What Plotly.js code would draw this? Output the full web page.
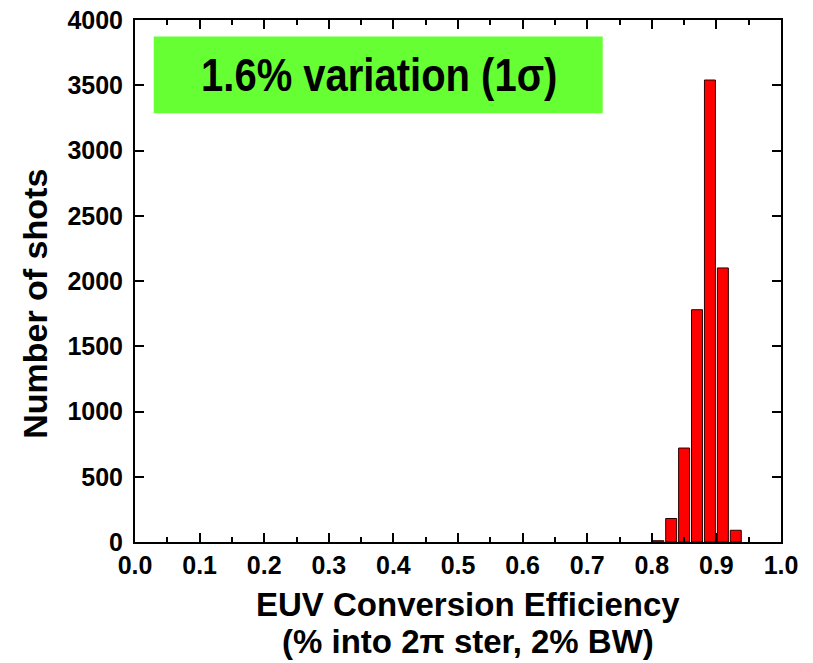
<!DOCTYPE html>
<html>
<head>
<meta charset="utf-8">
<script src="https://cdn.plot.ly/plotly-3.0.1.min.js"></script>
<style>
  html, body { margin: 0; padding: 0; background: #ffffff; }
  #chart { width: 813px; height: 663px; }
</style>
</head>
<body>
<div id="chart"></div>
<script>
// Histogram of EUV conversion efficiency over all shots
const binCenters = [0.81, 0.83, 0.85, 0.87, 0.89, 0.91, 0.93];
const shotCounts = [10, 180, 720, 1780, 3540, 2100, 90];

const xTickVals = [0.0, 0.1, 0.2, 0.3, 0.4, 0.5, 0.6, 0.7, 0.8, 0.9, 1.0];
const xTickText = ['0.0', '0.1', '0.2', '0.3', '0.4', '0.5', '0.6', '0.7', '0.8', '0.9', '1.0'];
const yTickVals = [0, 500, 1000, 1500, 2000, 2500, 3000, 3500, 4000];

const noteText = '1.6% variation (1\u03C3)';
const xTitleLines = ['EUV Conversion Efficiency', '(% into 2\u03C0 ster, 2% BW)'];
const yTitle = 'Number of shots';

const FONT = 'Liberation Sans, Arial, sans-serif';

const trace = {
  type: 'bar',
  x: binCenters,
  y: shotCounts,
  width: 0.017,
  marker: { color: '#ff0000', line: { color: '#2a0000', width: 1 } },
  hoverinfo: 'x+y'
};

const axisCommon = {
  showline: true,
  linecolor: '#000000',
  linewidth: 2,
  mirror: 'ticks',
  ticks: 'inside',
  tickcolor: '#000000',
  tickwidth: 2,
  ticklen: 9,
  showgrid: false,
  zeroline: false,
  tickfont: { family: FONT, size: 25, color: '#000000', weight: 'bold' }
};

const titleFont = { family: FONT, size: 33, color: '#000000', weight: 'bold' };

const layout = {
  width: 813,
  height: 663,
  paper_bgcolor: '#ffffff',
  plot_bgcolor: '#ffffff',
  margin: { l: 135, r: 32, t: 20, b: 121 },
  showlegend: false,
  bargap: 0,
  xaxis: Object.assign({}, axisCommon, {
    range: [0, 1.0],
    tickmode: 'array',
    tickvals: xTickVals,
    ticktext: xTickText,
    minor: { dtick: 0.05, tick0: 0, ticks: 'inside', ticklen: 5, tickwidth: 2, tickcolor: '#000000' }
  }),
  yaxis: Object.assign({}, axisCommon, {
    range: [0, 4000],
    tickmode: 'array',
    tickvals: yTickVals,
    ticktext: yTickVals.map(String),
    ticklabelstandoff: 5
  }),
  shapes: [{
    type: 'rect',
    xref: 'x', yref: 'y',
    x0: 0.029, x1: 0.724, y0: 3285, y1: 3874,
    fillcolor: '#66ff33',
    line: { width: 0 },
    layer: 'below'
  }],
  annotations: [
    {
      xref: 'x', yref: 'y',
      x: 0.378, y: 3580,
      text: noteText,
      showarrow: false,
      font: { family: FONT, size: 40, color: '#000000', weight: 'bold' }
    },
    {
      xref: 'paper', yref: 'paper',
      x: 0.5, y: 0, xshift: 10, yshift: -62,
      xanchor: 'center', yanchor: 'middle',
      text: xTitleLines[0],
      showarrow: false,
      font: titleFont
    },
    {
      xref: 'paper', yref: 'paper',
      x: 0.5, y: 0, xshift: 10, yshift: -99,
      xanchor: 'center', yanchor: 'middle',
      text: xTitleLines[1],
      showarrow: false,
      font: titleFont
    },
    {
      xref: 'paper', yref: 'paper',
      x: -0.155, y: 0.456,
      xanchor: 'center', yanchor: 'middle',
      text: yTitle,
      textangle: -90,
      showarrow: false,
      font: { family: FONT, size: 34, color: '#000000', weight: 'bold' }
    }
  ]
};

Plotly.newPlot('chart', [trace], layout, { displayModeBar: false, staticPlot: true }).then(function (gd) {
  // stretch the boxed note vertically so its glyphs are taller, like a condensed face
  const note = gd.querySelector('.annotation[data-index="0"] text');
  if (note) {
    note.style.transformBox = 'fill-box';
    note.style.transformOrigin = 'center';
    note.style.transform = 'scaleY(1.15)';
  }
});
</script>
</body>
</html>
